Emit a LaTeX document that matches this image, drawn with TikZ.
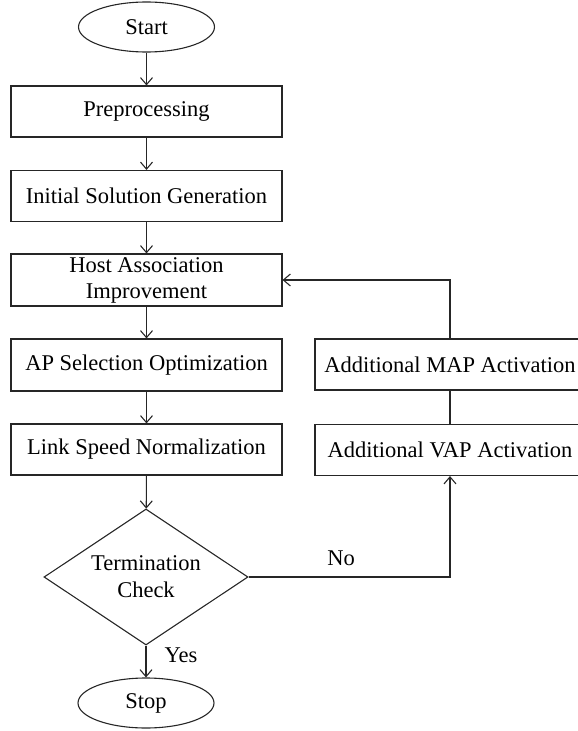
\documentclass[tikz,border=0pt]{standalone}
\usepackage{fontspec}
\setmainfont{Liberation Serif}
\usetikzlibrary{shapes.geometric,arrows.meta}
\begin{document}
\begin{tikzpicture}[x=1bp,y=-1bp,
  every node/.style={font=\fontsize{22.5bp}{27bp}\selectfont},
  line/.style={line width=1.1bp, draw=black!85},
  arr/.style={line, -{Straight Barb[length=7bp,width=12bp,line width=1.1bp]}},
  procbox/.style={draw=black!85, line width=1.1bp, rectangle, minimum width=271bp, minimum height=51bp, inner sep=0pt, align=center},
  sidebox/.style={procbox, minimum width=270bp},
  term/.style={draw=black!85, line width=1.1bp, ellipse, minimum width=136bp, minimum height=50bp, inner sep=0pt},
  decision/.style={draw=black!85, line width=1.1bp, diamond, aspect=1.5, minimum width=204bp, minimum height=136bp, inner sep=0pt, align=center},
  lbl/.style={inner sep=0pt}]
\useasboundingbox (0,0) rectangle (578,731);
\clip (0,0) rectangle (578,731);
\node[term] (start) at (146.5,27) {Start};
\node[procbox] (pre) at (146.5,111.5) {Preprocessing};
\node[procbox] (init) at (146.5,196) {Initial Solution Generation};
\node[procbox, minimum height=52bp] (host) at (146.5,280) {Host Association\\[-1bp]Improvement};
\node[procbox, minimum height=52bp] (apsel) at (146.5,365) {AP Selection Optimization};
\node[procbox] (link) at (146.5,449.5) {Link Speed Normalization};
\node[decision] (check) at (146,577) {Termination\\Check};
\node[term] (stop) at (146,703) {Stop};
\node[sidebox] (map) at (450,364.5) {Additional MAP Activation};
\node[sidebox] (vap) at (450,450) {Additional VAP Activation};
\node[lbl] (no) at (341,558) {No};
\node[lbl] (yes) at (181,655) {Yes};
\draw[arr] (start) -- (pre);
\draw[arr] (pre) -- (init);
\draw[arr] (init) -- (host);
\draw[arr] (host) -- (apsel);
\draw[arr] (apsel) -- (link);
\draw[arr] (link) -- (check);
\draw[arr] (check) -- (stop);
\draw[line] (vap) -- (map);
\draw[arr] (map.north) |- (host.east);
\draw[arr] (check.east) -| (vap.south);
\end{tikzpicture}
\end{document}
